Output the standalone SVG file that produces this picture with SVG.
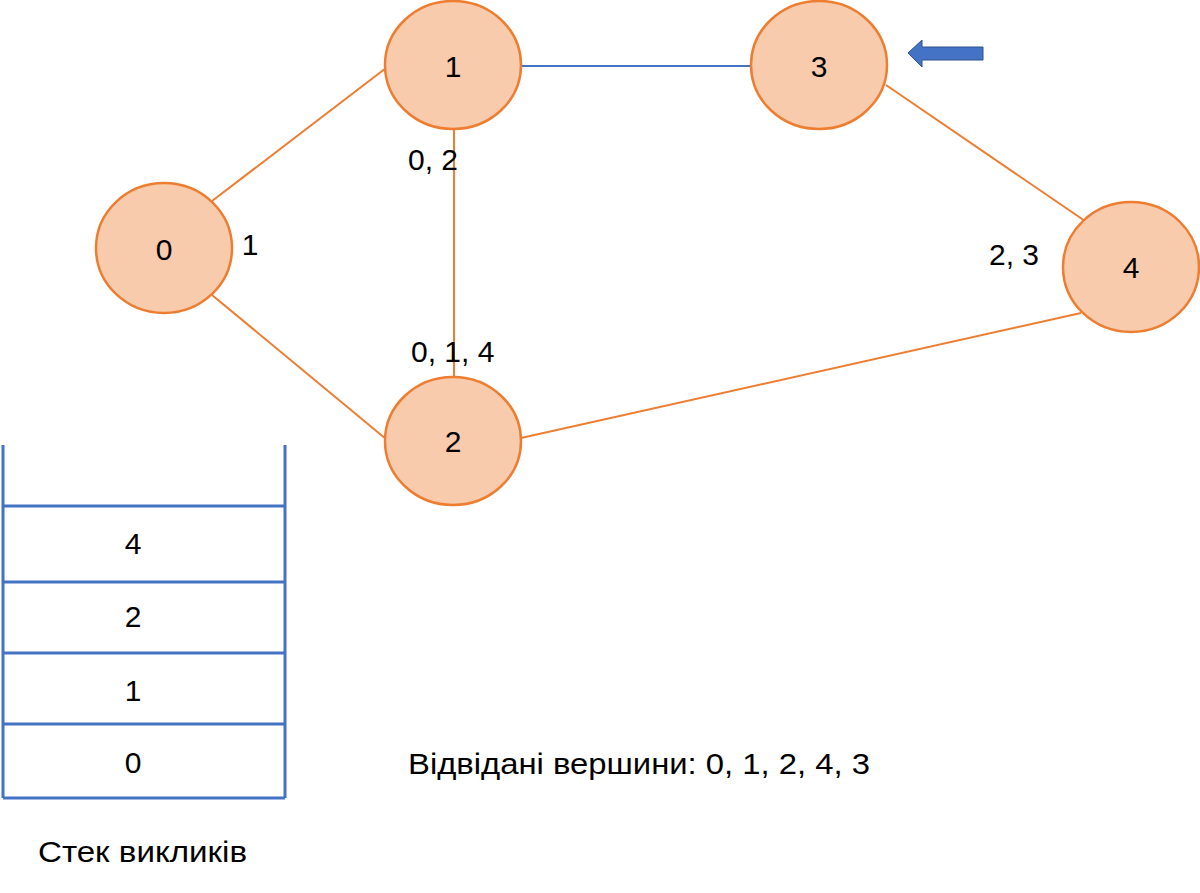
<svg xmlns="http://www.w3.org/2000/svg" width="1200" height="893" viewBox="0 0 1200 893">
<style>
.node{fill:#F8CBAD;stroke:#ED7D31;stroke-width:2.5}
.edge{stroke:#ED7D31;stroke-width:2;fill:none}
.edgeb{stroke:#4472C4;stroke-width:2;fill:none}
.stk{stroke:#4472C4;stroke-width:3;fill:none}
text{font-family:"Liberation Sans",Arial,sans-serif;font-size:30px;fill:#000}
.c{text-anchor:middle}
</style>
<rect width="1200" height="893" fill="#fff"/>
<g id="connectors">
<line class="edge" x1="212" y1="201" x2="386" y2="68"/>
<line class="edge" x1="212" y1="295" x2="386" y2="439"/>
<line class="edge" x1="454" y1="129" x2="454" y2="377"/>
<line class="edgeb" x1="521" y1="66" x2="751" y2="66"/>
<line class="edge" x1="886" y1="85" x2="1085" y2="221"/>
<line class="edge" x1="521" y1="438" x2="1081" y2="313"/>
</g>
<g id="node0"><ellipse class="node" cx="164" cy="248" rx="68" ry="65"/><text class="c" x="164" y="260">0</text></g>
<g id="node1"><ellipse class="node" cx="453" cy="65" rx="68" ry="64"/><text class="c" x="453" y="77">1</text></g>
<g id="node2"><ellipse class="node" cx="453" cy="441" rx="68" ry="64"/><text class="c" x="453" y="452">2</text></g>
<g id="node3"><ellipse class="node" cx="819" cy="65" rx="68" ry="64"/><text class="c" x="819" y="77">3</text></g>
<g id="node4"><ellipse class="node" cx="1131" cy="267" rx="68" ry="65"/><text class="c" x="1131" y="278">4</text></g>
<g id="labels">
<text class="c" x="250" y="255">1</text>
<text x="408" y="170">0, 2</text>
<text x="411" y="362">0, 1, 4</text>
<text x="989" y="265">2, 3</text>
</g>
<g id="pointer">
<polygon points="908,53 922,40 922,47 983,47 983,60 922,60 922,67" fill="#4472C4" stroke="#2F528F" stroke-width="1"/>
</g>
<g id="stack">
<line class="stk" x1="3" y1="445" x2="3" y2="798"/>
<line class="stk" x1="285" y1="445" x2="285" y2="798"/>
<line class="stk" x1="3" y1="506" x2="285" y2="506"/>
<line class="stk" x1="3" y1="582" x2="285" y2="582"/>
<line class="stk" x1="3" y1="653" x2="285" y2="653"/>
<line class="stk" x1="3" y1="724" x2="285" y2="724"/>
<line class="stk" x1="3" y1="798" x2="285" y2="798"/>
<text class="c" x="133" y="554">4</text>
<text class="c" x="133" y="627">2</text>
<text class="c" x="133" y="701">1</text>
<text class="c" x="133" y="773">0</text>
<text x="38" y="862" textLength="209" lengthAdjust="spacingAndGlyphs">Стек викликів</text>
</g>
<g id="visited">
<text x="408" y="774" textLength="462" lengthAdjust="spacingAndGlyphs">Відвідані вершини: 0, 1, 2, 4, 3</text>
</g>
</svg>
